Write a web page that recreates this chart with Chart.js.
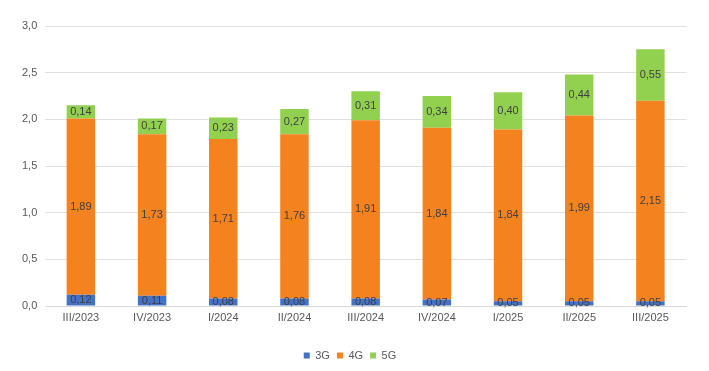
<!DOCTYPE html>
<html>
<head>
<meta charset="utf-8">
<script src="https://cdn.jsdelivr.net/npm/chart.js@4"></script>
<style>
    html, body { margin: 0; padding: 0; background: #fff; }
    #wrap { width: 709px; height: 371px; }
</style>
</head>
<body>
<div id="wrap"><canvas id="tech-chart"></canvas></div>
<script>
const quarters = ['III/2023', 'IV/2023', 'I/2024', 'II/2024', 'III/2024', 'IV/2024', 'I/2025', 'II/2025', 'III/2025'];
const values3G = [0.12, 0.11, 0.08, 0.08, 0.08, 0.07, 0.05, 0.05, 0.05];
const values4G = [1.89, 1.73, 1.71, 1.76, 1.91, 1.84, 1.84, 1.99, 2.15];
const values5G = [0.14, 0.17, 0.23, 0.27, 0.31, 0.34, 0.40, 0.44, 0.55];

Chart.defaults.font.family = "'Liberation Sans', Arial, sans-serif";
Chart.defaults.font.size = 11;
Chart.defaults.color = '#595959';

const toComma = (v, d) => v.toFixed(d).replace('.', ',');

// draw the value in the middle of every segment
const segmentLabels = {
    id: 'segmentLabels',
    afterDatasetsDraw(chart) {
        const ctx = chart.ctx;
        ctx.save();
        ctx.font = "11px 'Liberation Sans', Arial, sans-serif";
        ctx.fillStyle = '#404040';
        ctx.textAlign = 'center';
        ctx.textBaseline = 'middle';
        chart.data.datasets.forEach((ds, i) => {
            chart.getDatasetMeta(i).data.forEach((bar, j) => {
                let p = bar.getProps(['x', 'y', 'base'], true);
                ctx.fillText(toComma(ds.data[j], 2), p.x, (p.y + p.base) / 2);
            });
        });
        ctx.restore();
    }
};

new Chart(document.getElementById('tech-chart'), {
    type: 'bar',
    data: {
        labels: quarters,
        datasets: [
            { label: '3G', data: values3G, backgroundColor: '#4472C4' },
            { label: '4G', data: values4G, backgroundColor: '#F4821F' },
            { label: '5G', data: values5G, backgroundColor: '#92D050' },
        ]
    },
    options: {
        responsive: true,
        maintainAspectRatio: false,
        animation: false,
        categoryPercentage: 1,
        barPercentage: 0.4,
        layout: { padding: { left: 14, right: 23, top: 26, bottom: 0 } },
        plugins: {
            legend: {
                position: 'bottom',
                labels: { boxWidth: 6, boxHeight: 6, padding: 7, color: '#595959' }
            },
            tooltip: { enabled: false }
        },
        scales: {
            x: {
                stacked: true,
                grid: { display: false, drawTicks: false },
                border: { color: '#d9d9d9' },
                ticks: { padding: 5 },
                afterFit: (axis) => { axis.height = 37; }
            },
            y: {
                stacked: true,
                min: 0,
                max: 3,
                ticks: { stepSize: 0.5, padding: 8, callback: v => toComma(v, 1) },
                grid: { color: '#e0e0e0', drawTicks: false },
                border: { display: false }
            }
        }
    },
    plugins: [segmentLabels]
});
</script>
</body>
</html>
